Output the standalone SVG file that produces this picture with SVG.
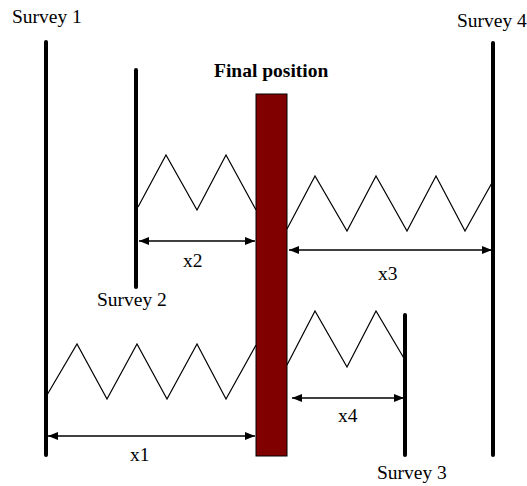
<svg xmlns="http://www.w3.org/2000/svg" width="527" height="486" viewBox="0 0 527 486">
<defs>
<marker id="ah" viewBox="0 0 10 8" refX="10" refY="4" markerWidth="10" markerHeight="8" markerUnits="userSpaceOnUse" orient="auto-start-reverse">
<path d="M0,0 L10,4 L0,8 Z" fill="#000"/>
</marker>
</defs>
<style>
.survey{stroke:#000;stroke-width:4;stroke-linecap:round;fill:none}
.zig{stroke:#000;stroke-width:1.2;fill:none;stroke-linejoin:miter}
.dim{stroke:#000;stroke-width:1.5;fill:none;marker-start:url(#ah);marker-end:url(#ah)}
text{font-family:"Liberation Serif","Times New Roman",serif;font-size:19.5px;fill:#000}
.bold{font-weight:bold}
</style>
<rect width="527" height="486" fill="#fff"/>
<g id="survey1">
<line class="survey" x1="46" y1="42" x2="46" y2="455"/>
<text x="12" y="23">Survey 1</text>
</g>
<g id="survey2">
<line class="survey" x1="136" y1="70" x2="136" y2="287"/>
<text x="97" y="306">Survey 2</text>
</g>
<g id="survey3">
<line class="survey" x1="405" y1="315" x2="405" y2="455"/>
<text x="377" y="479">Survey 3</text>
</g>
<g id="survey4">
<line class="survey" x1="493" y1="43" x2="493" y2="455"/>
<text x="457" y="27">Survey 4</text>
</g>
<g id="final">
<rect x="256" y="94" width="31" height="362" fill="#800000" stroke="#000" stroke-width="1"/>
<text class="bold" x="214" y="77">Final position</text>
</g>
<g id="connectors">
<polyline class="zig" points="138,207 166,155 197,210 226,155 256,210"/>
<polyline class="zig" points="287,229 315,176 347,231 376,176 407,231 436,176 465,231 493,181"/>
<polyline class="zig" points="47,395 77,344 107,399 137,344 167,399 197,344 226,399 256,345"/>
<polyline class="zig" points="287,365 315,311 347,367 376,311 405,360"/>
<line class="dim" x1="139" y1="241" x2="255" y2="241"/>
<line class="dim" x1="289" y1="250" x2="492" y2="250"/>
<line class="dim" x1="48" y1="436" x2="255" y2="436"/>
<line class="dim" x1="292" y1="398" x2="404" y2="398"/>
<text x="183" y="267">x2</text>
<text x="378" y="280">x3</text>
<text x="130" y="461">x1</text>
<text x="338" y="422">x4</text>
</g>
</svg>
